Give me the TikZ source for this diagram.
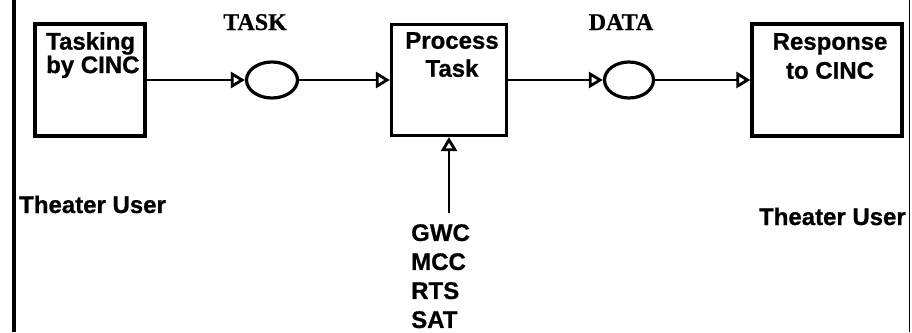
\documentclass[tikz,border=0pt]{standalone}
\usepackage{fontspec}
\setmainfont{Liberation Sans}[BoldFeatures={FakeBold=0.8}]
\newfontfamily\serifb{Liberation Serif}[BoldFeatures={FakeBold=0.6}]
\usetikzlibrary{arrows.meta,shapes.geometric}
\tikzset{
  px/.style={x=1pt,y=-1pt},
  box/.style={draw,line width=3.2pt,rectangle,inner sep=0pt},
  oval/.style={draw,line width=3.2pt,ellipse,inner sep=0pt,minimum width=51pt,minimum height=36pt},
  flow/.style={line width=2.8pt,-{Triangle[open,length=14pt,width=16pt,line width=2.8pt]}},
  lbl/.style={font=\fontsize{24}{24}\selectfont\bfseries,inner sep=0pt},
  ttl/.style={font=\fontsize{24}{24}\serifb\bfseries,inner sep=0pt}
}
\begin{document}
\begin{tikzpicture}[px]
\useasboundingbox (0,0) rectangle (912,332);
% frame edges
\draw[line width=4.5pt] (14,0) -- (14,332);
\draw[line width=1.8pt] (909.5,0) -- (909.5,332);
% boxes
\node[box,minimum width=110pt,minimum height=112pt] (b1) at (90,80) {};
\node[box,minimum width=115pt,minimum height=111pt] (b2) at (449,80) {};
\node[box,minimum width=150pt,minimum height=112pt] (b3) at (827,80) {};
% ovals
\node[oval] (e1) at (272,80) {};
\node[oval,minimum width=49pt] (e2) at (629,80) {};
% box texts
\node[lbl,anchor=north west,align=left,font=\fontsize{24}{21.5}\selectfont\bfseries] (t1) at (46,32) {Tasking\\by CINC};
\node[lbl,anchor=north,align=center,font=\fontsize{24}{28}\selectfont\bfseries] (t2) at (452,32) {Process\\Task};
\node[lbl,anchor=north,align=center,font=\fontsize{24}{29}\selectfont\bfseries] (t3) at (830,33) {Response\\to CINC};
% titles
\node[ttl,anchor=base] (task) at (255,30) {TASK};
\node[ttl,anchor=base] (data) at (621,30) {DATA};
% connectors
\draw[flow] (b1) -- (e1);
\draw[flow] (e1) -- (b2);
\draw[flow] (b2) -- (e2);
\draw[flow] (e2) -- (b3);
\coordinate (src) at (449,213);
\draw[flow] (src) -- (b2.south);
% lower labels
\node[lbl,anchor=north west,align=left,font=\fontsize{24}{29}\selectfont\bfseries] (sys) at (411,224) {GWC\\MCC\\RTS\\SAT};
\node[lbl,anchor=base west] (u1) at (19,213) {Theater User};
\node[lbl,anchor=base east] (u2) at (906,225) {Theater User};
\end{tikzpicture}
\end{document}
